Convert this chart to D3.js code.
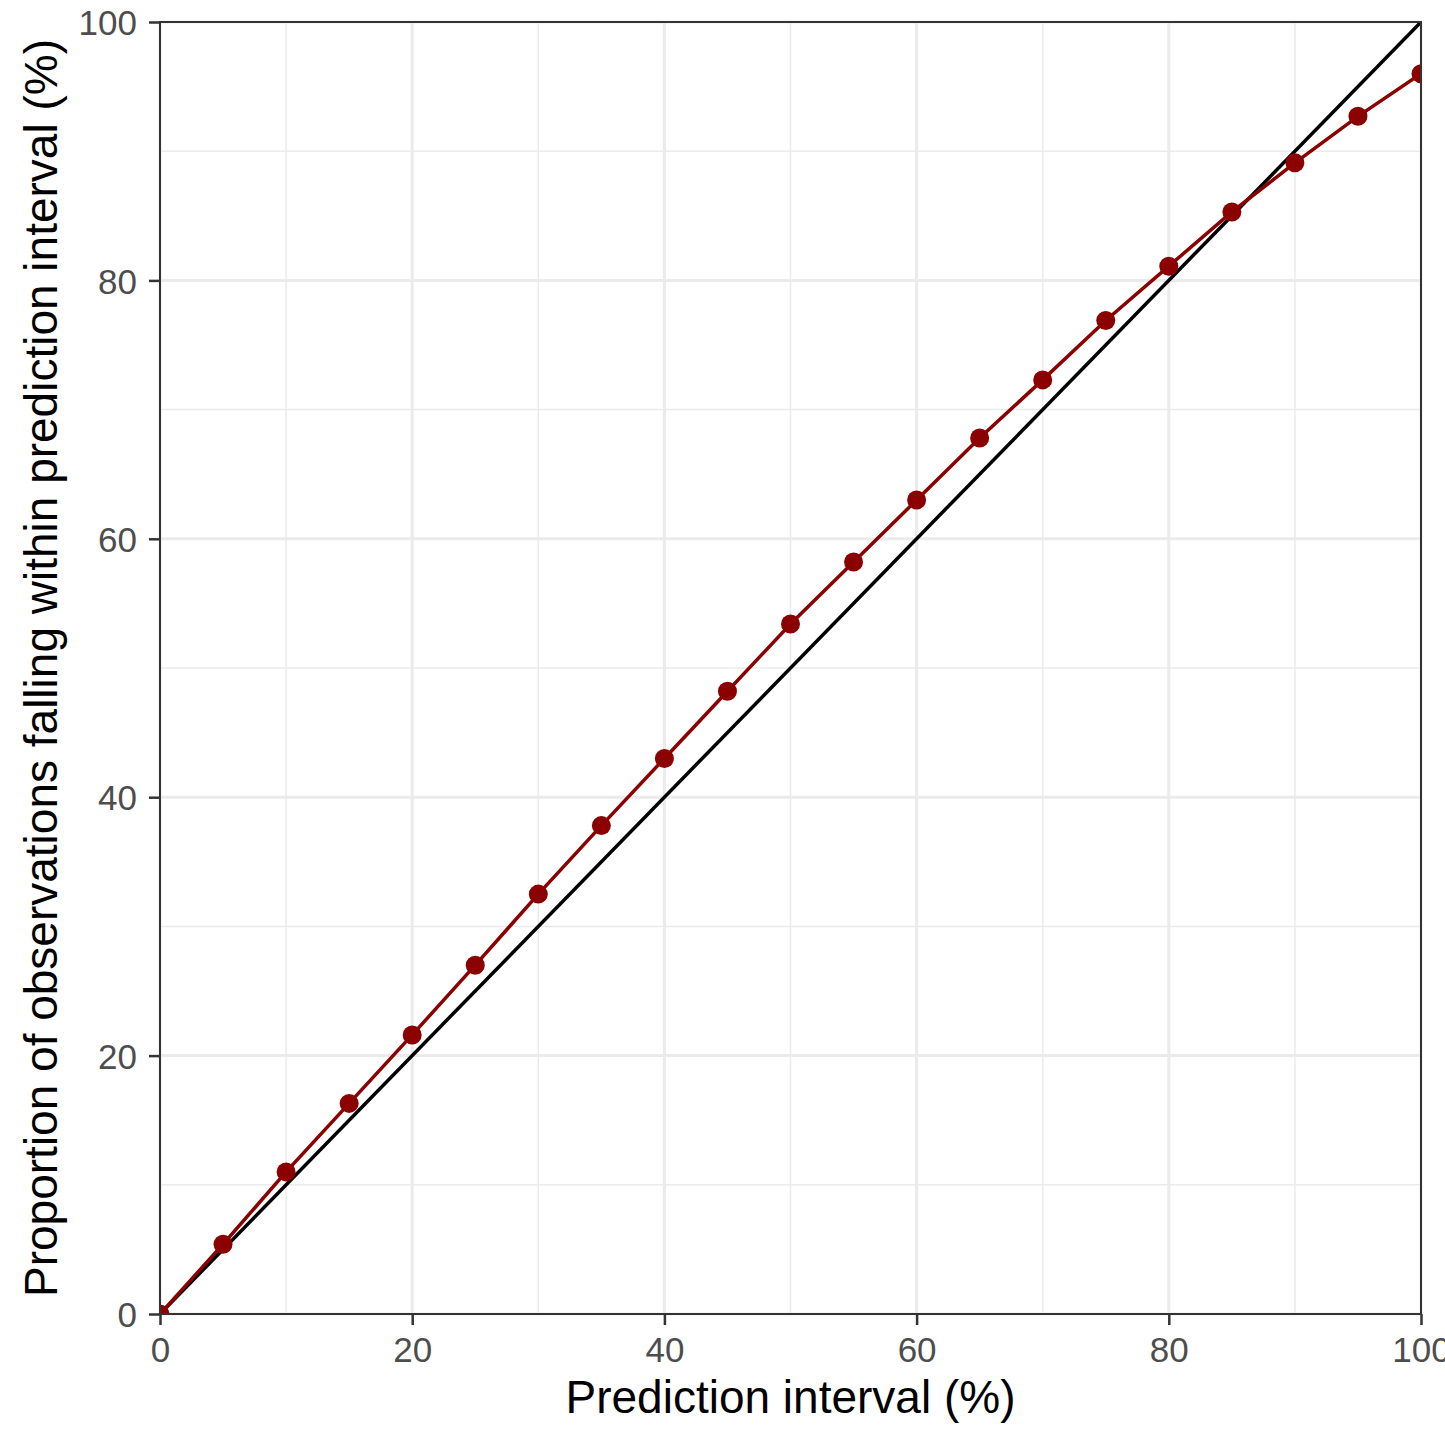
<!DOCTYPE html>
<html>
<head>
<meta charset="utf-8">
<script src="https://cdn.jsdelivr.net/npm/d3@7"></script>
<style>
  body { margin: 0; background: #fff; }
  text { font-family: "Liberation Sans", Arial, sans-serif; }
</style>
</head>
<body>
<div id="chart"></div>
<script>
// prediction interval levels and observed coverage (%)
var intervals = [0, 5, 10, 15, 20, 25, 30, 35, 40, 45, 50, 55, 60, 65, 70, 75, 80, 85, 90, 95, 100];
var coverage = [0, 5.4, 11.0, 16.3, 21.6, 27.0, 32.5, 37.8, 43.0, 48.2, 53.4, 58.2, 63.0, 67.8, 72.3, 76.9, 81.1, 85.3, 89.1, 92.7, 96.0];
var majorTicks = [0, 20, 40, 60, 80, 100];
var minorTicks = [10, 30, 50, 70, 90];

var width = 1445, height = 1445;
var margin = {top: 22, right: 24, bottom: 131, left: 160};
var innerW = width - margin.left - margin.right,
    innerH = height - margin.top - margin.bottom;

var svg = d3.select("#chart").append("svg")
    .attr("width", width)
    .attr("height", height);

var g = svg.append("g")
    .attr("transform", "translate(" + margin.left + "," + margin.top + ")");

var x = d3.scaleLinear().domain([0, 100]).range([0, innerW]);
var y = d3.scaleLinear().domain([0, 100]).range([innerH, 0]);

// clip to panel
g.append("clipPath")
    .attr("id", "panel")
    .append("rect")
    .attr("width", innerW)
    .attr("height", innerH);

// grid lines
var grid = g.append("g");
grid.selectAll(".minor-x").data(minorTicks).enter().append("line")
    .attr("x1", d => x(d)).attr("x2", d => x(d))
    .attr("y1", 0).attr("y2", innerH)
    .attr("stroke", "#ebebeb").attr("stroke-width", 1.5);
grid.selectAll(".minor-y").data(minorTicks).enter().append("line")
    .attr("y1", d => y(d)).attr("y2", d => y(d))
    .attr("x1", 0).attr("x2", innerW)
    .attr("stroke", "#ebebeb").attr("stroke-width", 1.5);
grid.selectAll(".major-x").data(majorTicks).enter().append("line")
    .attr("x1", d => x(d)).attr("x2", d => x(d))
    .attr("y1", 0).attr("y2", innerH)
    .attr("stroke", "#ebebeb").attr("stroke-width", 3);
grid.selectAll(".major-y").data(majorTicks).enter().append("line")
    .attr("y1", d => y(d)).attr("y2", d => y(d))
    .attr("x1", 0).attr("x2", innerW)
    .attr("stroke", "#ebebeb").attr("stroke-width", 3);

var plot = g.append("g").attr("clip-path", "url(#panel)");

// identity line
plot.append("line")
    .attr("x1", x(0)).attr("y1", y(0))
    .attr("x2", x(100)).attr("y2", y(100))
    .attr("stroke", "#000").attr("stroke-width", 3.5);

var pts = intervals.map((d, i) => [d, coverage[i]]);

plot.append("path")
    .datum(pts)
    .attr("fill", "none")
    .attr("stroke", "#8b0000")
    .attr("stroke-width", 3.5)
    .attr("d", d3.line().x(d => x(d[0])).y(d => y(d[1])));

plot.selectAll("circle").data(pts).enter().append("circle")
    .attr("cx", d => x(d[0]))
    .attr("cy", d => y(d[1]))
    .attr("r", 9.5)
    .attr("fill", "#8b0000");

// panel border
g.append("rect")
    .attr("width", innerW).attr("height", innerH)
    .attr("fill", "none").attr("stroke", "#333").attr("stroke-width", 2);

// axes
var xAxis = g.append("g")
    .attr("transform", "translate(0," + innerH + ")")
    .call(d3.axisBottom(x).tickValues(majorTicks).tickSize(11).tickPadding(12));
var yAxis = g.append("g")
    .call(d3.axisLeft(y).tickValues(majorTicks).tickSize(11).tickPadding(12));

[xAxis, yAxis].forEach(function (a) {
  a.select(".domain").remove();
  a.selectAll(".tick line").attr("stroke", "#333").attr("stroke-width", 2.5);
  a.selectAll(".tick text")
      .attr("fill", "#4d4d4d")
      .style("font-size", "35px")
      .style("font-family", "'Liberation Sans', Arial, sans-serif");
});
xAxis.selectAll(".tick text").attr("y", 48).attr("dy", 0);
yAxis.selectAll(".tick text").attr("dy", "0.36em");

// axis titles
svg.append("text")
    .attr("x", margin.left + innerW / 2)
    .attr("y", 1413)
    .attr("text-anchor", "middle")
    .style("font-size", "46px")
    .attr("fill", "#000")
    .text("Prediction interval (%)");

svg.append("text")
    .attr("transform", "translate(57," + (margin.top + innerH / 2) + ") rotate(-90)")
    .attr("text-anchor", "middle")
    .style("font-size", "46px")
    .attr("fill", "#000")
    .text("Proportion of observations falling within prediction interval (%)");
</script>
</body>
</html>
